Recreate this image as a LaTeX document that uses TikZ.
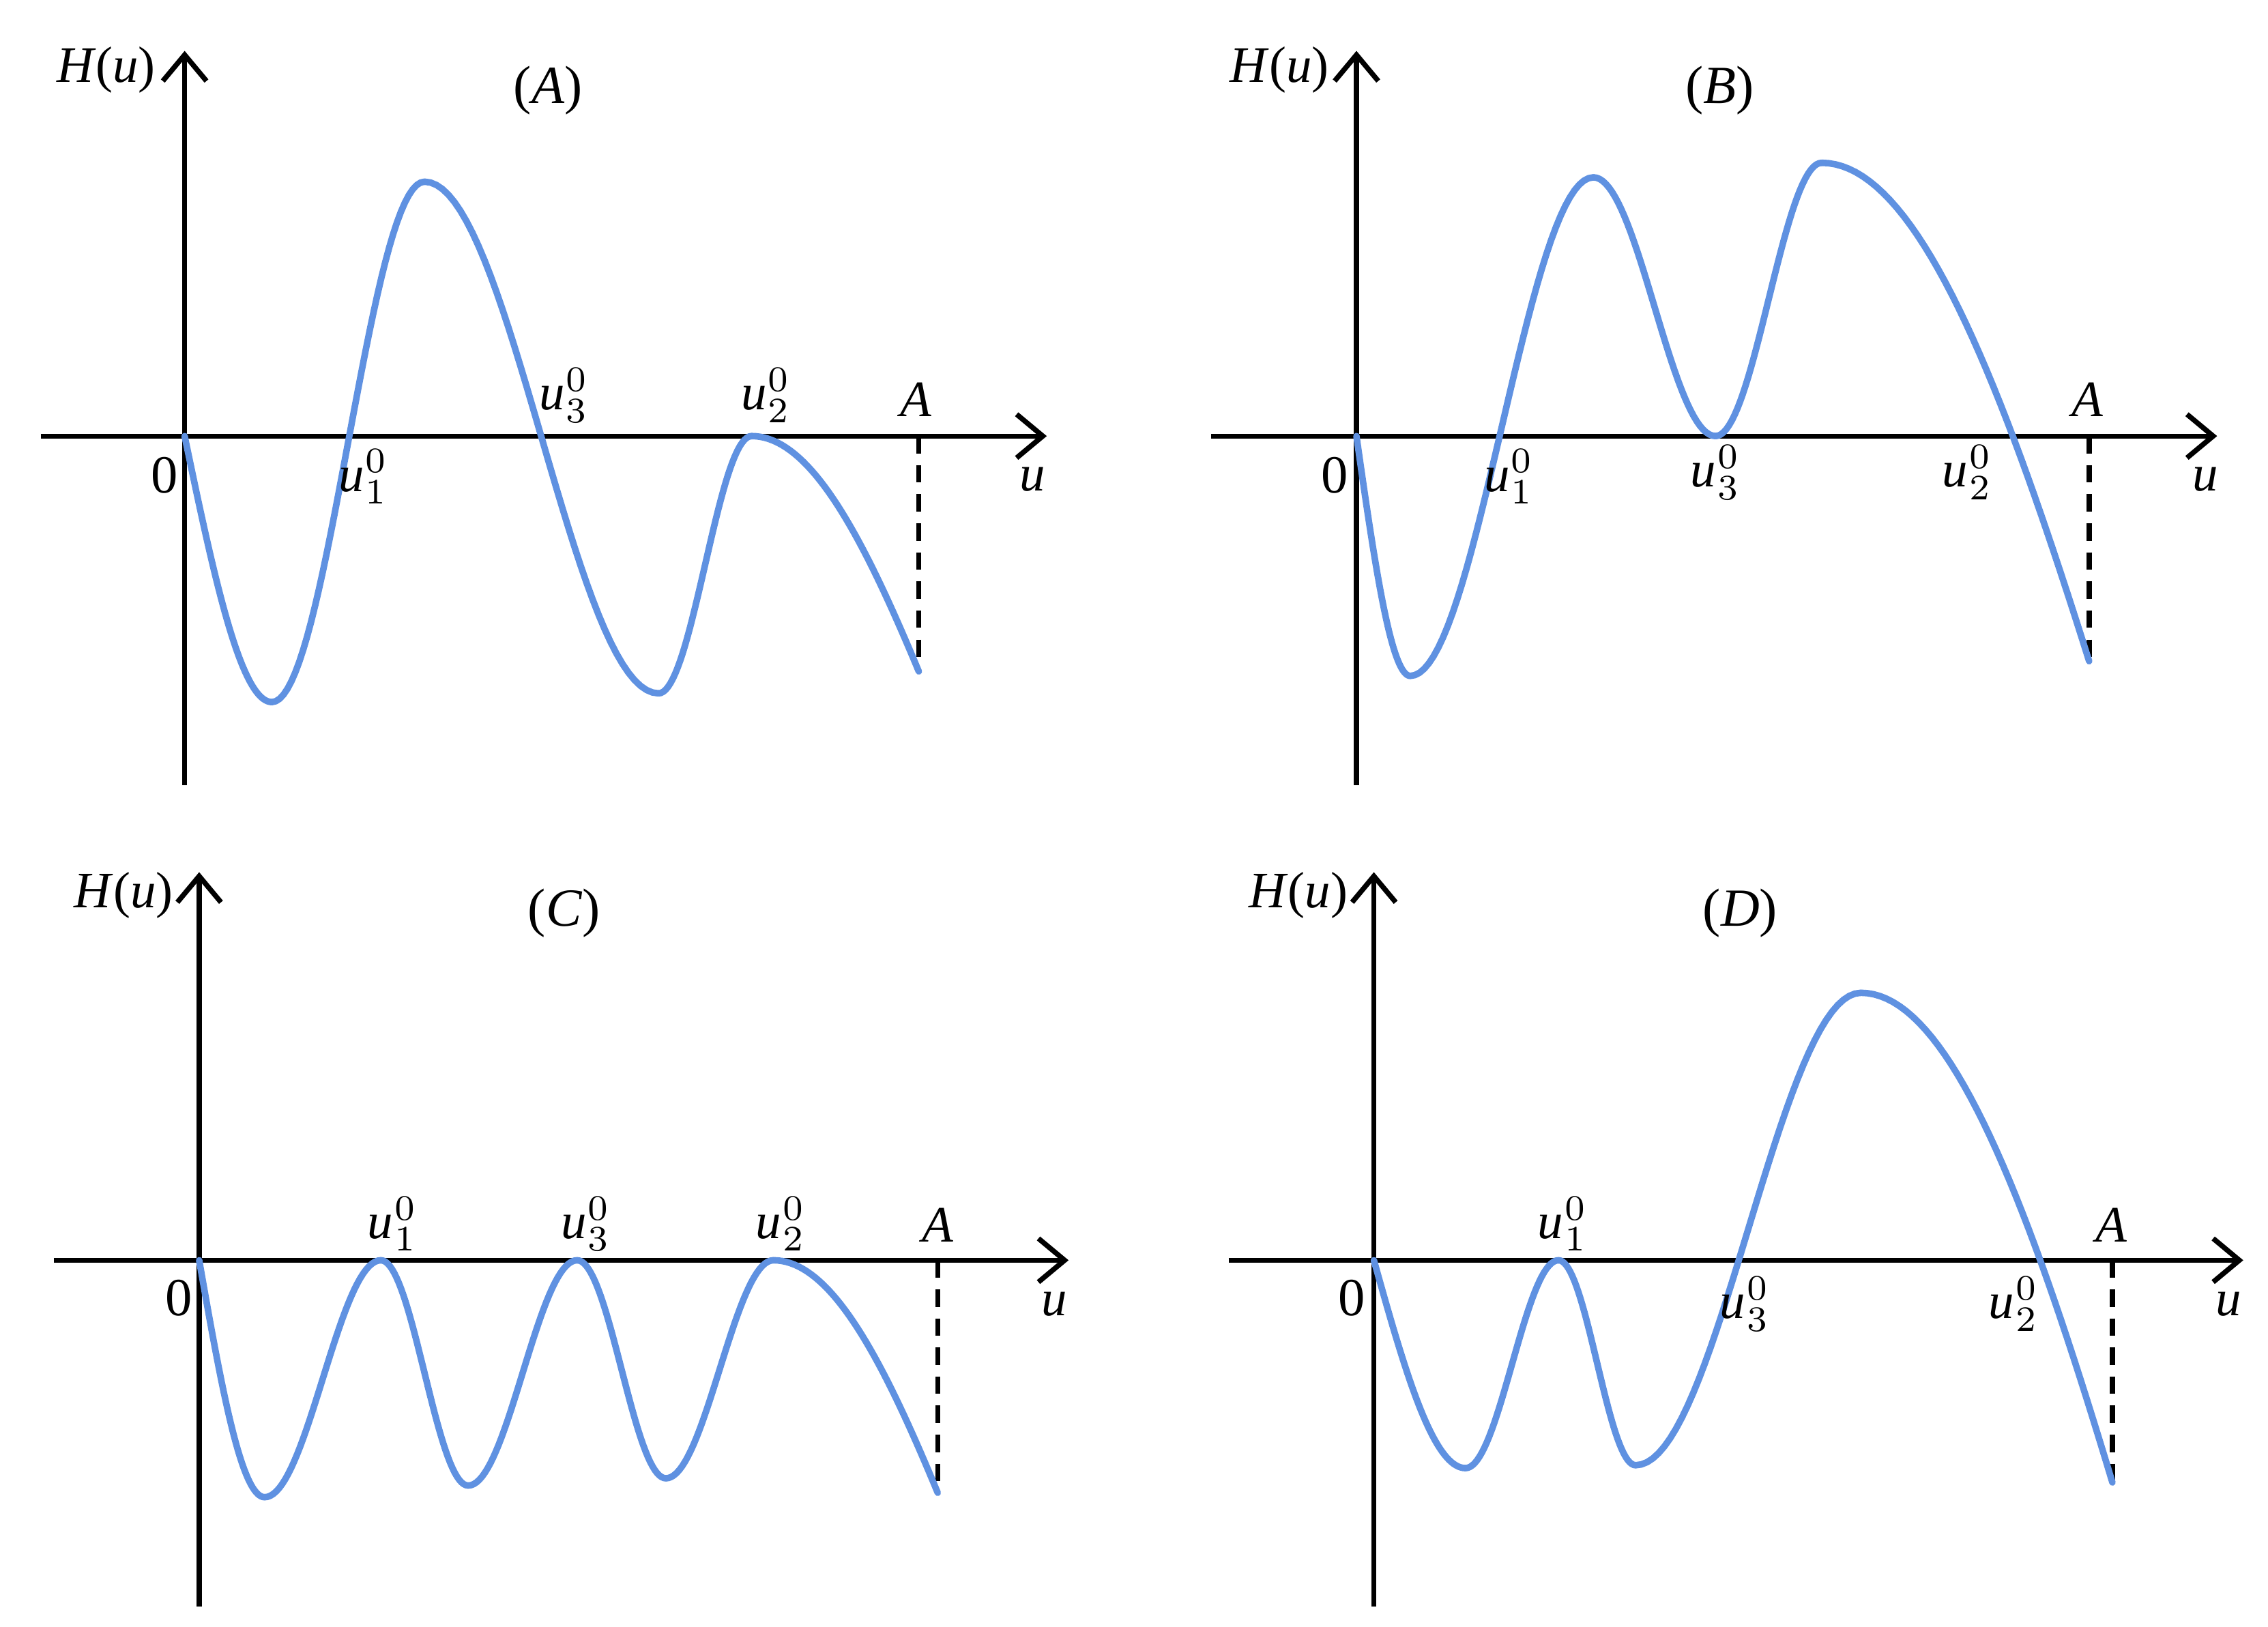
\documentclass[tikz,border=0pt]{standalone}
\usepackage{fontspec}
\setmainfont{Liberation Serif}
\usetikzlibrary{arrows.meta}
\definecolor{curve}{RGB}{95,145,225}
\tikzset{
 axis/.style={line width=0.35mm,-{Straight Barb[length=1.8mm,width=3mm,line width=0.35mm]}},
 crv/.style={curve,line width=0.45mm,line cap=round,line join=round},
 dsh/.style={line width=0.35mm,dash pattern=on 1.2mm off 0.8mm},
 lbl/.style={font=\itshape\fontsize{10pt}{11pt}\selectfont,inner sep=0pt},
 sm/.style={font=\itshape\fontsize{10pt}{11pt}\selectfont,inner sep=0pt},
 ttl/.style={font=\fontsize{10.5pt}{12pt}\selectfont,inner sep=0pt}
}
\newcommand\hcseg[4]{\draw[crv] plot[domain=0:1,samples=40] ({(#1)+((#3)-(#1))*\x},{(#2)+((#4)-(#2))*(1-cos(180*\x))/2});}
\newcommand\qsseg[4]{\draw[crv] plot[domain=0:1,samples=40] ({(#1)+((#3)-(#1))*\x},{(#2)+((#4)-(#2))*sin(90*\x)});}
\newcommand\qeseg[4]{\draw[crv] plot[domain=0:1,samples=40] ({(#1)+((#3)-(#1))*\x},{(#2)+((#4)-(#2))*(1-cos(75*\x))/(1-cos(75))});}
\newcommand\uu[1]{u\kern0.3pt$\scriptstyle\mathstrut$\raisebox{0pt}{$^{0}_{#1}$}}
\begin{document}
\begin{tikzpicture}[x=0.1mm,y=0.1mm]
\useasboundingbox (0,0) rectangle (1560,-1119);
% ---- Panel A
\draw[axis] (127,-540) -- (127,-35);
\draw[axis] (28,-300) -- (720,-300);
\draw[dsh] (632,-300) -- (632,-462);
\qsseg{127}{-300}{187}{-483}
\hcseg{187}{-483}{292}{-125}
\hcseg{292}{-125}{453}{-477}
\hcseg{453}{-477}{517}{-300}
\qeseg{517}{-300}{632}{-462}
\node[ttl] (a0) at (113,-327) {0};
\node[sm] (a1) at (250,-328) {\uu{1}};
\node[sm] (a3) at (388,-272) {\uu{3}};
\node[sm] (a2) at (527,-272) {\uu{2}};
\node[lbl] (aA) at (630,-275) {A};
\node[lbl] (au) at (710,-330) {u};
\node[lbl] (aH) at (73,-48) {H\textup{(}u\textup{)}};
\node[ttl] (aT) at (377,-62) {(\textit{A})};
% ---- Panel B
\draw[axis] (933,-540) -- (933,-35);
\draw[axis] (833,-300) -- (1525,-300);
\draw[dsh] (1437,-300) -- (1437,-455);
\qsseg{933}{-300}{970}{-465}
\hcseg{970}{-465}{1096}{-122}
\hcseg{1096}{-122}{1180}{-300}
\hcseg{1180}{-300}{1253}{-112}
\qeseg{1253}{-112}{1437}{-455}
\node[ttl] (b0) at (918,-327) {0};
\node[sm] (b1) at (1038,-328) {\uu{1}};
\node[sm] (b3) at (1180,-325) {\uu{3}};
\node[sm] (b2) at (1353,-325) {\uu{2}};
\node[lbl] (bA) at (1436,-275) {A};
\node[lbl] (bu) at (1517,-330) {u};
\node[lbl] (bH) at (880,-48) {H\textup{(}u\textup{)}};
\node[ttl] (bT) at (1183,-62) {(\textit{B})};
% ---- Panel C
\draw[axis] (137,-1105) -- (137,-600);
\draw[axis] (37,-867) -- (735,-867);
\draw[dsh] (645,-867) -- (645,-1027);
\qsseg{137}{-867}{182}{-1030}
\hcseg{182}{-1030}{262}{-867}
\hcseg{262}{-867}{322}{-1022}
\hcseg{322}{-1022}{397}{-867}
\hcseg{397}{-867}{458}{-1017}
\hcseg{458}{-1017}{532}{-867}
\qeseg{532}{-867}{645}{-1027}
\node[ttl] (c0) at (123,-893) {0};
\node[sm] (c1) at (270,-842) {\uu{1}};
\node[sm] (c3) at (403,-842) {\uu{3}};
\node[sm] (c2) at (537,-842) {\uu{2}};
\node[lbl] (cA) at (645,-843) {A};
\node[lbl] (cu) at (725,-897) {u};
\node[lbl] (cH) at (85,-616) {H\textup{(}u\textup{)}};
\node[ttl] (cT) at (388,-628) {(\textit{C})};
% ---- Panel D
\draw[axis] (945,-1105) -- (945,-600);
\draw[axis] (845,-867) -- (1543,-867);
\draw[dsh] (1453,-867) -- (1453,-1020);
\qsseg{945}{-867}{1008}{-1010}
\hcseg{1008}{-1010}{1072}{-867}
\hcseg{1072}{-867}{1125}{-1008}
\hcseg{1125}{-1008}{1280}{-683}
\qeseg{1280}{-683}{1453}{-1020}
\node[ttl] (d0) at (930,-893) {0};
\node[sm] (d1) at (1075,-842) {\uu{1}};
\node[sm] (d3) at (1200,-897) {\uu{3}};
\node[sm] (d2) at (1385,-897) {\uu{2}};
\node[lbl] (dA) at (1452,-843) {A};
\node[lbl] (du) at (1533,-897) {u};
\node[lbl] (dH) at (893,-616) {H\textup{(}u\textup{)}};
\node[ttl] (dT) at (1197,-628) {(\textit{D})};
\end{tikzpicture}
\end{document}
